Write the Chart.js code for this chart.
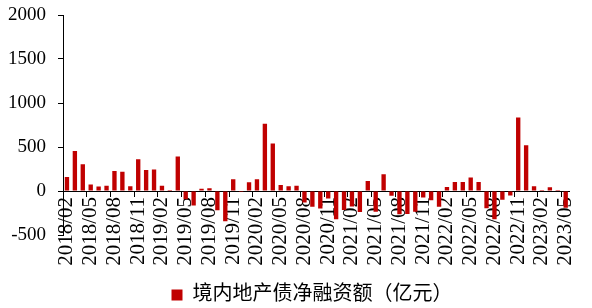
<!DOCTYPE html>
<html lang="zh">
<head>
<meta charset="UTF-8">
<title>境内地产债净融资额</title>
<script src="https://cdn.jsdelivr.net/npm/chart.js"></script>
<style>
  body { margin: 0; background: #fff; }
  .wrap { width: 592px; height: 308px; }
</style>
</head>
<body>
<div class="wrap"><canvas id="bondChart"></canvas></div>
<script>
// monthly categories
const months = [
  '2018/02','2018/03','2018/04','2018/05','2018/06','2018/07','2018/08','2018/09','2018/10','2018/11','2018/12',
  '2019/01','2019/02','2019/03','2019/04','2019/05','2019/06','2019/07','2019/08','2019/09','2019/10','2019/11','2019/12',
  '2020/01','2020/02','2020/03','2020/04','2020/05','2020/06','2020/07','2020/08','2020/09','2020/10','2020/11','2020/12',
  '2021/01','2021/02','2021/03','2021/04','2021/05','2021/06','2021/07','2021/08','2021/09','2021/10','2021/11','2021/12',
  '2022/01','2022/02','2022/03','2022/04','2022/05','2022/06','2022/07','2022/08','2022/09','2022/10','2022/11','2022/12',
  '2023/01','2023/02','2023/03','2023/04','2023/05'
];

// net financing, 100m CNY
const netFinancing = [
  160, 455, 305, 75, 50, 60, 228, 220, 55, 362, 240,
  245, 60, 12, 392, -95, -165, 25, 30, -220, -345, 133, -10,
  100, 133, 765, 540, 68, 55, 60, -130, -180, -200, -85, -320,
  -215, -175, -240, 115, -235, 190, -55, -265, -260, -235, -75, -105,
  -180, 45, 103, 103, 152, 103, -195, -320, -100, -50, 835, 520,
  55, 12, 42, 10, -190
];

const seriesName = '境内地产债净融资额（亿元）';
const yMin = -500;
const yMax = 2000;
const yStep = 500;
const labelEvery = 3;

const fontFamily = '"Liberation Serif", "Times New Roman", "Noto Sans CJK SC", serif';

// nudge the legend to the right, like the Excel original
const legendShift = {
  id: 'legendShift',
  afterLayout(chart) {
    chart.legend.left += 44;
  }
};

const ctx = document.getElementById('bondChart').getContext('2d');
const chart = new Chart(ctx, {
  type: 'bar',
  data: {
    labels: months,
    datasets: [{
      label: seriesName,
      data: netFinancing,
      backgroundColor: '#C00000',
      borderWidth: 0,
      barPercentage: 0.55,
      categoryPercentage: 1.0
    }]
  },
  plugins: [legendShift],
  options: {
    responsive: true,
    maintainAspectRatio: false,
    animation: false,
    layout: { padding: { top: 0, right: 12, left: 0, bottom: -7 } },
    plugins: {
      tooltip: { enabled: false },
      legend: {
        position: 'bottom',
        // empty title only used as a spacer under the rotated labels
        title: { display: true, text: '', font: { size: 10, lineHeight: 1 }, padding: { top: 32, bottom: 0 } },
        labels: {
          boxWidth: 11,
          boxHeight: 11,
          padding: 8,
          color: '#000',
          font: { family: fontFamily, size: 20 }
        }
      }
    },
    scales: {
      x: {
        position: { y: 0 },
        offset: true,
        grid: {
          offset: true,
          drawOnChartArea: false,
          tickLength: 5,
          color: (c) => (c.index % labelEvery === 0 ? '#000' : 'rgba(0,0,0,0)')
        },
        border: { color: '#000' },
        ticks: {
          autoSkip: false,
          maxRotation: 90,
          minRotation: 90,
          padding: 1,
          color: '#000',
          font: { family: fontFamily, size: 21 },
          callback: function (v, i) {
            return i % labelEvery === 0 ? this.getLabelForValue(v) : '';
          }
        }
      },
      y: {
        min: yMin,
        max: yMax,
        ticks: {
          stepSize: yStep,
          padding: 12,
          color: '#000',
          font: { family: fontFamily, size: 19, lineHeight: 1 },
          callback: (v) => String(v)
        },
        grid: { drawOnChartArea: false, tickLength: 5, color: '#000' },
        border: { color: '#000' },
        afterFit: (s) => {
          s.width = 63;
          s.paddingTop = 15;
          s.paddingBottom = 0;
        }
      }
    }
  }
});
</script>
</body>
</html>
